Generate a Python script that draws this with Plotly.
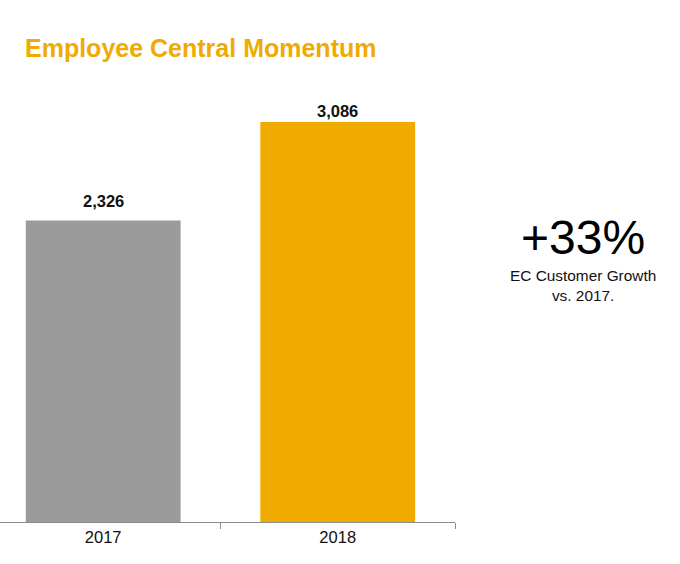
import plotly.graph_objects as go

# EC customer counts per year
years = ["2017", "2018"]
customers = [2326, 3086]
bar_colors = ["#9B9B9B", "#F0AB00"]

title_text = "Employee Central Momentum"
growth_caption = "EC Customer Growth<br>vs. 2017."

growth = round((customers[-1] / customers[0] - 1) * 100)

font = "Arial, Liberation Sans, sans-serif"

fig = go.Figure()
fig.add_trace(go.Bar(
	x=years,
	y=customers,
	marker=dict(color=bar_colors, line=dict(width=0)),
	width=0.66,
	hoverinfo="x+y",
))

# value labels above the bars (gap differs a bit in the original slide)
# x given as category index, "2017" would be read as a number
label_gap = [9, 0]
annotations = []
for i, (val, gap) in enumerate(zip(customers, label_gap)):
	annotations.append(dict(
		x=i, y=val, xref="x", yref="y",
		text="<b>{:,}</b>".format(val),
		showarrow=False, yanchor="bottom", yshift=gap,
		font=dict(family=font, size=16.5, color="#111111"),
	))

# growth callout on the right
annotations.append(dict(
	x=583 / 455, y=(522 - 237) / 432, xref="x domain", yref="paper",
	text="+{}%".format(growth),
	showarrow=False, xanchor="center", yanchor="middle",
	font=dict(family=font, size=48, color="#000000"),
))
annotations.append(dict(
	x=583 / 455, y=(522 - 285) / 432, xref="x domain", yref="paper",
	text=growth_caption,
	showarrow=False, xanchor="center", yanchor="middle",
	font=dict(family=font, size=15.4, color="#111111"),
))

fig.update_layout(
	width=680, height=564,
	margin=dict(l=0, r=225, t=90, b=42),
	paper_bgcolor="white", plot_bgcolor="white",
	showlegend=False,
	title=dict(
		text="<b>" + title_text + "</b>",
		xref="container", yref="container",
		x=25 / 680, y=1 - 48 / 564,
		xanchor="left", yanchor="middle",
		font=dict(family=font, size=25, color="#F0AB00"),
	),
	annotations=annotations,
	xaxis=dict(
		type="category",
		range=[-0.44, 1.5],
		showline=True, linecolor="#8C8C8C", linewidth=1,
		ticks="outside", tickson="boundaries", ticklen=6, tickcolor="#8C8C8C",
		showgrid=False, zeroline=False,
		tickfont=dict(family=font, size=16.5, color="#111111"),
	),
	yaxis=dict(
		range=[0, 3333],
		showticklabels=False, showline=False, showgrid=False, zeroline=False,
	),
)

# drop the default page margin so the chart sits at the window corner
fig.write_html("out.html", config={"displayModeBar": False},
	post_script="document.body.style.margin='0';")
